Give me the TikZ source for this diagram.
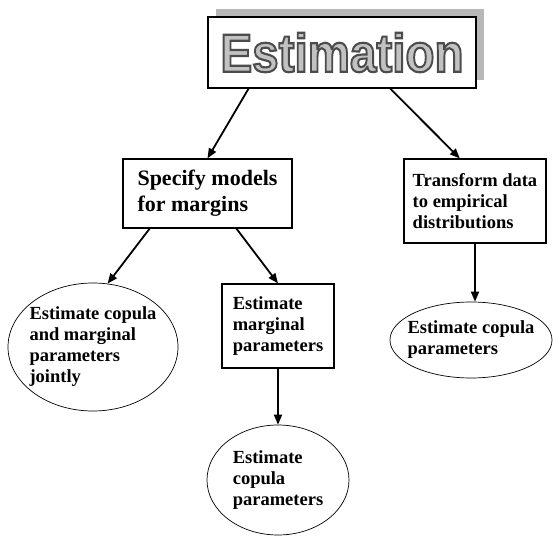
\documentclass[tikz,border=0pt]{standalone}
\usepackage{fontspec}
\setmainfont{Liberation Serif}
\newfontfamily\titlefont{Liberation Sans}
\usepackage{graphicx}
\usetikzlibrary{positioning,arrows.meta,shapes.geometric,shadows,calc}

% outlined grey letters for the heading
\newcommand{\outlined}[1]{\special{pdf:literal direct 2 Tr 0.4 w 0.3 0.3 0.3 RG 0.76 0.76 0.76 rg}#1\special{pdf:literal direct 0 Tr 0 0 0 RG 0 0 0 rg}}
\newcommand{\boxfont}{\bfseries\fontsize{18.5}{21}\selectfont}

\begin{document}
\begin{tikzpicture}[
      x=1pt, y=-1pt,
      headbox/.style={draw, line width=1.2pt, fill=white, inner sep=0pt, minimum width=268pt, minimum height=71pt,
        general shadow={fill=black!28, shadow xshift=8pt, shadow yshift=8pt}},
      stepbox/.style={draw, line width=1.2pt, inner sep=0pt, align=left, font=\boxfont},
      oval/.style={ellipse, draw, line width=0.7pt, inner sep=0pt},
      lbl/.style={align=left, inner sep=0pt, font=\boxfont},
      arr/.style={-{Triangle[length=10pt, width=8pt]}, line width=1.8pt}
  ]
    \useasboundingbox (0,0) rectangle (557,537);

    \node[headbox] (title) at (342,52.5) {\resizebox{243pt}{39pt}{\titlefont\bfseries\outlined{Estimation}}};

    \node[stepbox, minimum width=169pt, minimum height=69pt, font=\bfseries\fontsize{22}{26}\selectfont]
      (spec) at (207.5,193.5) {Specify models\\for margins};
    \node[stepbox, minimum width=142pt, minimum height=84pt]
      (trans) at (475,201) {Transform data\\to empirical\\distributions};
    \node[stepbox, minimum width=112pt, minimum height=84pt]
      (marg) at (278,326) {Estimate\\marginal\\parameters};

    \node[oval, minimum width=170pt, minimum height=128pt,
      label={[lbl]center:{Estimate copula\\and marginal\\parameters\\jointly}}] (joint) at (93,347) {};
    \node[oval, minimum width=162pt, minimum height=76pt,
      label={[lbl]center:{Estimate copula\\parameters}}] (copR) at (471,340) {};
    \node[oval, minimum width=142pt, minimum height=110pt,
      label={[lbl]center:{Estimate\\copula\\parameters}}] (copB) at (278,480) {};

    \draw[arr] ($(title.south west)!0.153!(title.south east)$) -- (spec.north);
    \draw[arr] ($(title.south west)!0.679!(title.south east)$) -- ($(trans.north west)!0.394!(trans.north east)$);
    \draw[arr] ($(spec.south west)!0.16!(spec.south east)$) -- (joint.77);
    \draw[arr] ($(spec.south west)!0.67!(spec.south east)$) -- (marg.north);
    \draw[arr] (marg.south) -- (copB.north);
    \draw[arr] (trans.south) -- (trans.south |- copR.north);
  \end{tikzpicture}
\end{document}
